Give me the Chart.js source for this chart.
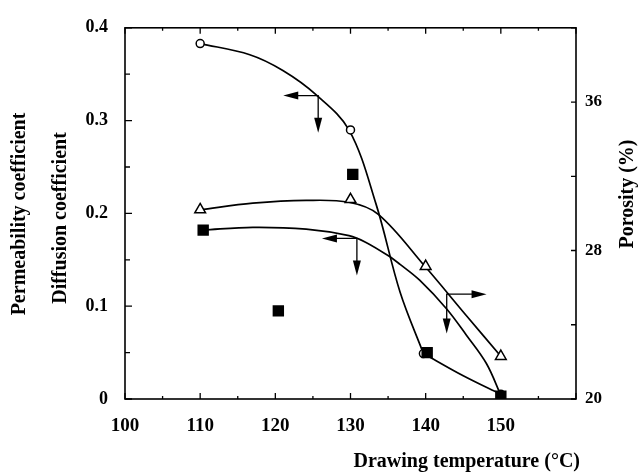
<!DOCTYPE html>
<html>
<head>
<meta charset="utf-8">
<script src="https://cdn.jsdelivr.net/npm/chart.js@4/dist/chart.umd.min.js"></script>
<style>html,body{margin:0;padding:0;background:#fff}</style>
</head>
<body>
<canvas id="chart" width="640" height="473"></canvas>
<script>
// tick labels
const xTicks = [100, 110, 120, 130, 140, 150];
const leftTicks = [0, 0.1, 0.2, 0.3, 0.4];
const rightTicks = [20, 28, 36];

// measured points (left axis)
const circleX = [110, 130, 139.7, 150];
const circleY = [0.383, 0.29, 0.049, 0.005];
const squareX = [110.4, 120.4, 130.3, 140.2, 150];
const squareY = [0.182, 0.095, 0.242, 0.05, 0.003];
// porosity points (right axis)
const triangleX = [110, 130, 140, 150];
const triangleY = [30.2, 30.75, 27.15, 22.3];

// fitted curves (circle curve has a knee at 140)
const circleFitX = [110, 116.6, 121, 125.4, 129.8, 133.4, 136.6, 139.7];
const circleFitY = [0.383, 0.371, 0.354, 0.328, 0.29, 0.21, 0.115, 0.049];
const circleTailX = [139.7, 145, 150];
const circleTailY = [0.049, 0.025, 0.005];
const squareFitX = [110.4, 117, 124.1, 129.8, 132, 135.1, 136.6, 139.2, 142.8, 145.4, 148.1, 150];
const squareFitY = [0.182, 0.185, 0.183, 0.176, 0.169, 0.154, 0.145, 0.128, 0.097, 0.069, 0.038, 0.004];
const triangleFitX = [110, 117, 124.1, 129.8, 133.7, 139.9, 145.4, 150];
const triangleFitY = [30.2, 30.55, 30.7, 30.6, 29.95, 27.15, 24.5, 22.3];

// arrow annotations: corner, horizontal tip x, vertical tip y (left axis units)
const arrows = [
  { x: 125.7, y: 0.327, tipX: 121.05, tipY: 0.287 },
  { x: 130.85, y: 0.173, tipX: 126.2, tipY: 0.133 },
  { x: 142.8, y: 0.113, tipX: 148.1, tipY: 0.0705 }
];

const pts = (xs, ys) => xs.map((x, i) => ({ x, y: ys[i] }));
const FONT = '"Liberation Serif", "Times New Roman", serif';

const decor = {
  id: 'decor',
  afterDatasetsDraw(chart) {
    const { ctx, chartArea: a, scales } = chart;
    const sx = scales.x, sy = scales.y, sr = scales.y2;
    ctx.save();
    ctx.strokeStyle = '#000';
    ctx.fillStyle = '#000';
    ctx.lineWidth = 1.6;
    ctx.strokeRect(a.left, a.top, a.right - a.left, a.bottom - a.top);
    ctx.lineWidth = 1.3;
    ctx.beginPath();
    // bottom and top ticks, inward
    for (let v = 100; v <= 160; v += 5) {
      const px = sx.getPixelForValue(v);
      const len = v % 10 === 0 ? 6 : 3;
      ctx.moveTo(px, a.bottom); ctx.lineTo(px, a.bottom - len);
      ctx.moveTo(px, a.top); ctx.lineTo(px, a.top + len);
    }
    // left ticks
    for (let k = 0; k <= 8; k++) {
      const py = sy.getPixelForValue(k * 0.05);
      const len = k % 2 === 0 ? 7 : 5;
      ctx.moveTo(a.left, py); ctx.lineTo(a.left + len, py);
    }
    // right ticks
    for (let v = 20; v <= 40; v += 4) {
      const py = sr.getPixelForValue(v);
      ctx.moveTo(a.right, py); ctx.lineTo(a.right - 5, py);
    }
    ctx.stroke();

    // arrows
    ctx.lineWidth = 1.3;
    arrows.forEach(ar => {
      const cx = sx.getPixelForValue(ar.x), cy = sy.getPixelForValue(ar.y);
      const hx = sx.getPixelForValue(ar.tipX), vy = sy.getPixelForValue(ar.tipY);
      const dir = Math.sign(hx - cx);
      ctx.beginPath();
      ctx.moveTo(hx - dir * 12, cy); ctx.lineTo(cx, cy); ctx.lineTo(cx, vy - 12);
      ctx.stroke();
      ctx.beginPath();
      ctx.moveTo(hx, cy); ctx.lineTo(hx - dir * 15, cy - 4); ctx.lineTo(hx - dir * 15, cy + 4);
      ctx.closePath(); ctx.fill();
      ctx.beginPath();
      ctx.moveTo(cx, vy); ctx.lineTo(cx - 4, vy - 15); ctx.lineTo(cx + 4, vy - 15);
      ctx.closePath(); ctx.fill();
    });

    // axis titles
    ctx.font = 'bold 20px ' + FONT;
    ctx.textAlign = 'center';
    ctx.textBaseline = 'middle';
    const rot = (txt, x, y) => {
      ctx.save(); ctx.translate(x, y); ctx.rotate(-Math.PI / 2);
      ctx.fillText(txt, 0, 0); ctx.restore();
    };
    rot('Permeability coefficient', 20, 214);
    rot('Diffusion coefficient', 61, 218);
    rot('Porosity (%)', 628, 194);
    ctx.textAlign = 'right';
    ctx.fillText('Drawing temperature (°C)', 580, 462);
    ctx.restore();
  }
};

const markerBase = { showLine: false, borderColor: '#000', borderWidth: 1.5, pointHoverRadius: 0 };
const lineBase = { showLine: true, pointRadius: 0, borderColor: '#000', borderWidth: 1.7, tension: 0.35, fill: false };

new Chart(document.getElementById('chart'), {
  type: 'scatter',
  data: {
    datasets: [
      { ...markerBase, data: pts(squareX, squareY), pointStyle: 'rect', pointRadius: 7, backgroundColor: '#000', yAxisID: 'y' },
      { ...markerBase, data: pts(circleX, circleY), pointStyle: 'circle', pointRadius: 4, backgroundColor: '#fff', yAxisID: 'y' },
      { ...markerBase, data: pts(triangleX, triangleY), pointStyle: 'triangle', pointRadius: 6.2, backgroundColor: '#fff', yAxisID: 'y2' },
      { ...lineBase, data: pts(circleFitX, circleFitY), yAxisID: 'y' },
      { ...lineBase, data: pts(circleTailX, circleTailY), yAxisID: 'y' },
      { ...lineBase, data: pts(squareFitX, squareFitY), yAxisID: 'y' },
      { ...lineBase, data: pts(triangleFitX, triangleFitY), yAxisID: 'y2' }
    ]
  },
  options: {
    responsive: false,
    devicePixelRatio: 1,
    animation: false,
    events: [],
    layout: { padding: { top: 20, left: 0, right: 0, bottom: 0 } },
    plugins: { legend: { display: false }, tooltip: { enabled: false } },
    scales: {
      x: {
        type: 'linear', min: 100, max: 160,
        grid: { display: false, drawTicks: false }, border: { display: false },
        afterBuildTicks: s => { s.ticks = xTicks.map(v => ({ value: v })); },
        afterFit: s => { s.height = 74; },
        ticks: { color: '#000', padding: 16, maxRotation: 0, font: { family: FONT, weight: 'bold', size: 19 } }
      },
      y: {
        type: 'linear', position: 'left', min: 0, max: 0.4,
        grid: { display: false, drawTicks: false }, border: { display: false },
        afterBuildTicks: s => { s.ticks = leftTicks.map(v => ({ value: v })); },
        afterFit: s => { s.width = 125; },
        ticks: { color: '#000', padding: 17, callback: v => v === 0 ? '0' : v.toFixed(1), font: { family: FONT, weight: 'bold', size: 18 } }
      },
      y2: {
        type: 'linear', position: 'right', min: 20, max: 40,
        grid: { display: false, drawTicks: false }, border: { display: false },
        afterBuildTicks: s => { s.ticks = rightTicks.map(v => ({ value: v })); },
        afterFit: s => { s.width = 64; },
        ticks: { color: '#000', padding: 9, font: { family: FONT, weight: 'bold', size: 17 } }
      }
    }
  },
  plugins: [decor]
});
</script>
</body>
</html>
